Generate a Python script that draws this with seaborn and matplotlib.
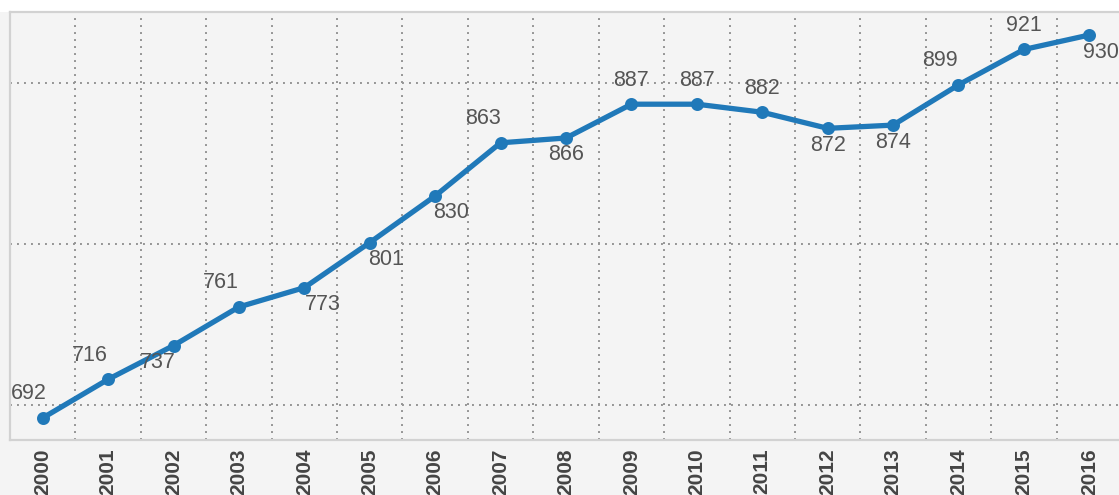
import numpy as np
import pandas as pd
import matplotlib
matplotlib.use("Agg")
import matplotlib.pyplot as plt
import seaborn as sns
from matplotlib.patches import Rectangle
from matplotlib.ticker import FixedLocator

# data
years = [str(y) for y in range(2000, 2017)]
values = [692, 716, 737, 761, 773, 801, 830, 863, 866, 887, 887, 882, 872, 874, 899, 921, 930]

# label placement (offsets in pixels: dx, dy; negative dy = above)
label_dx = [-14, -18, -16, -18, 18, 16, 16, -18, 0, 0, 0, 0, 0, 0, -19, 0, 12]
label_side = ['a', 'a', 'b', 'a', 'b', 'b', 'b', 'a', 'b', 'a', 'a', 'a', 'b', 'b', 'a', 'a', 'b']

sns.set_style("white")
plt.rcParams['font.family'] = ['Liberation Sans', 'DejaVu Sans']

df = pd.DataFrame({'year': years, 'value': values})

fig = plt.figure(figsize=(11.19, 4.95), dpi=100, facecolor='#f4f4f4')
ax = fig.add_axes([10 / 1119, 55 / 495, 1112 / 1119, 428 / 495])
ax.set_facecolor('#f4f4f4')

line_color = '#2079b9'
sns.pointplot(data=df, x='year', y='value', color=line_color, ax=ax,
              markers='o', markersize=6.5, linewidth=3.8, errorbar=None)

ax.set_xlim(-0.5, len(years) - 0.5)
ax.set_ylim(678.3, 944.3)

# grid: vertical lines between categories, horizontal at 700/800/900
ax.xaxis.set_minor_locator(FixedLocator(np.arange(-0.5, len(years), 1.0)))
ax.set_yticks([700, 800, 900])
ax.set_yticklabels([])
ax.grid(False)
ax.grid(True, which='minor', axis='x', color='#959595', linestyle=(0, (1, 2.6)), linewidth=1.4)
ax.grid(True, which='major', axis='y', color='#959595', linestyle=(0, (1, 2.6)), linewidth=1.4)
ax.set_axisbelow(True)

ax.tick_params(axis='x', which='major', length=0, pad=6)
ax.tick_params(axis='x', which='minor', length=6, color='#cfcfcf', width=1.2)
ax.tick_params(axis='y', length=0)
ax.set_xticks(range(len(years)))
ax.set_xticklabels(years, rotation=90, fontsize=15, fontweight='bold', color='#444444')
for lab in ax.get_xticklabels():
    lab.set_verticalalignment('top')

ax.set_xlabel('')
ax.set_ylabel('')

for side in ['left', 'top', 'bottom']:
    ax.spines[side].set_color('#d2d2d2')
    ax.spines[side].set_linewidth(1.6)
ax.spines['right'].set_visible(False)

px = 72.0 / fig.dpi
for i, (v, dx, s) in enumerate(zip(values, label_dx, label_side)):
    dy = 24 if s == 'a' else -17
    ax.annotate(str(v), (i, v), xytext=(dx * px, dy * px), textcoords='offset points',
                ha='center', va='center', fontsize=15.5, color='#555555')

# white band above the plot
fig.patches.append(Rectangle((0, 483 / 495), 1, 12 / 495, transform=fig.transFigure,
                             facecolor='white', edgecolor='none', zorder=-1))

fig.savefig('out.png', dpi=100, facecolor=fig.get_facecolor())
